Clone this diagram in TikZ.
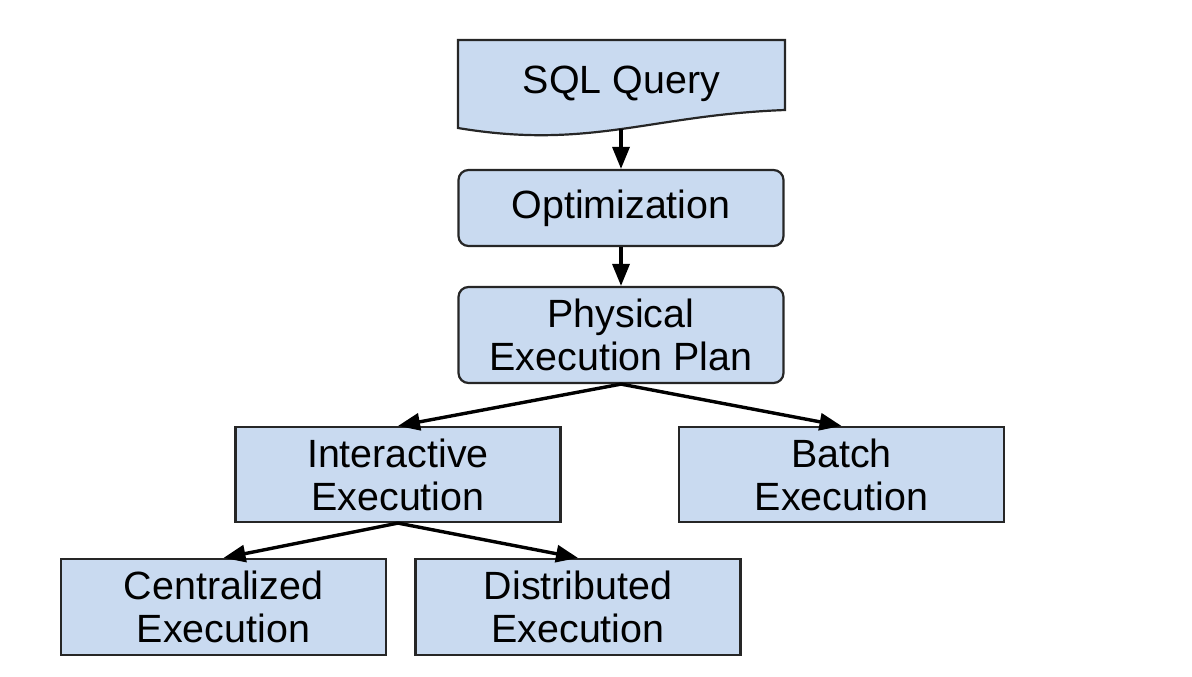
\documentclass[tikz,border=0pt]{standalone}
\usepackage{fontspec}
\setmainfont{Liberation Sans}
\usepackage{tikz}
\usetikzlibrary{arrows.meta}
\definecolor{stageblue}{RGB}{201,218,240}

\begin{document}
\begin{tikzpicture}[x=0.5pt,y=-0.5pt,
		font=\fontsize{19.7pt}{21.5pt}\selectfont,
		stage/.style={draw=black!85,line width=1.1pt,fill=stageblue,align=center,inner sep=0pt,minimum width=162.5pt},
		roundstage/.style={stage,rounded corners=5pt},
		flow/.style={line width=1.7pt,-{Triangle[length=11pt,width=8.5pt]}}]
		\useasboundingbox (0,0) rectangle (1192,676);
		\draw[stage] (458,40) -- (785,40) -- (785,110) .. controls (650,115) and (590,150) .. (458,128) -- cycle;
		\node (sql) at (621.5,84) {SQL Query};
		\coordinate (sqlbot) at (621,129);
		\node[roundstage,minimum height=38pt] (opt) at (621,208) {Optimization};
		\node[roundstage,minimum height=48pt] (plan) at (621,335) {Physical\\Execution Plan};
		\node[stage,minimum height=47.5pt] (inter) at (398,474.5) {Interactive\\Execution};
		\node[stage,minimum height=47.5pt] (batch) at (841.5,474.5) {Batch\\Execution};
		\node[stage,minimum height=48pt] (central) at (223.5,607) {Centralized\\Execution};
		\node[stage,minimum height=48pt] (distrib) at (578,607) {Distributed\\Execution};
		\draw[flow] (sqlbot) -- (opt.north);
		\draw[flow] (opt.south) -- (plan.north);
		\draw[flow] (plan.south) -- (inter.north);
		\draw[flow] (plan.south) -- (batch.north);
		\draw[flow] (inter.south) -- (central.north);
		\draw[flow] (inter.south) -- (distrib.north);
	\end{tikzpicture}
\end{document}
